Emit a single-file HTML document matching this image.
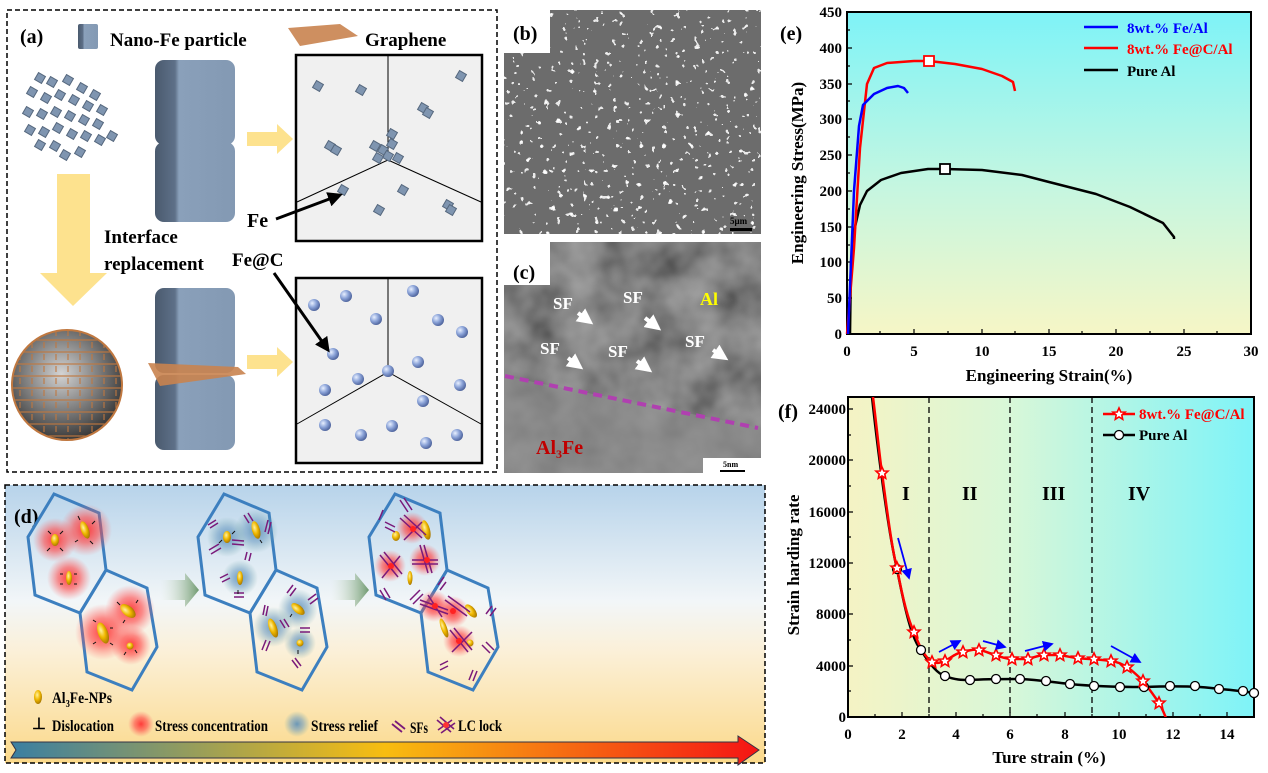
<!DOCTYPE html>
<html><head><meta charset="utf-8"><style>
html,body{margin:0;padding:0;background:#fff}
svg{display:block}
text{font-family:"Liberation Serif",serif;font-weight:bold}
</style></head><body>
<svg width="1268" height="773" viewBox="0 0 1268 773" xmlns="http://www.w3.org/2000/svg">
<defs>
<linearGradient id="gE" x1="0" y1="0" x2="0" y2="1"><stop offset="0" stop-color="#7ef3f7"/><stop offset="0.55" stop-color="#c6f6e0"/><stop offset="1" stop-color="#f6f6c6"/></linearGradient>
<linearGradient id="gF" x1="0" y1="0" x2="1" y2="0"><stop offset="0" stop-color="#f5f3c4"/><stop offset="0.4" stop-color="#d8f7d8"/><stop offset="1" stop-color="#7ef3f8"/></linearGradient>
<linearGradient id="gD" x1="0" y1="0" x2="0" y2="1"><stop offset="0" stop-color="#b7d3ea"/><stop offset="0.42" stop-color="#f2f6f8"/><stop offset="0.6" stop-color="#fbf0d8"/><stop offset="1" stop-color="#fbd98a"/></linearGradient>
<linearGradient id="gBar" x1="0" y1="0" x2="1" y2="0"><stop offset="0" stop-color="#3a7fa2"/><stop offset="0.5" stop-color="#f8bd10"/><stop offset="1" stop-color="#f51414"/></linearGradient>
<linearGradient id="gCube" x1="0" y1="0" x2="1" y2="0"><stop offset="0" stop-color="#4a5a6e"/><stop offset="0.25" stop-color="#5e7088"/><stop offset="0.3" stop-color="#8aa0ba"/><stop offset="1" stop-color="#8399b3"/></linearGradient>
<linearGradient id="gArr" x1="0" y1="0" x2="1" y2="0"><stop offset="0" stop-color="#dfe8d8" stop-opacity="0"/><stop offset="1" stop-color="#6f9a70"/></linearGradient>
<radialGradient id="gSph" cx="0.45" cy="0.4" r="0.6"><stop offset="0" stop-color="#d4d4d4"/><stop offset="1" stop-color="#3a3a3a"/></radialGradient>
<radialGradient id="gBall" cx="0.35" cy="0.35" r="0.7"><stop offset="0" stop-color="#e8f0ff"/><stop offset="0.5" stop-color="#8ba3d8"/><stop offset="1" stop-color="#4a5f98"/></radialGradient>
<radialGradient id="gRed"><stop offset="0" stop-color="#f33" stop-opacity="0.95"/><stop offset="0.5" stop-color="#f44" stop-opacity="0.6"/><stop offset="1" stop-color="#f66" stop-opacity="0"/></radialGradient>
<radialGradient id="gBlue"><stop offset="0" stop-color="#5c8fb8" stop-opacity="0.9"/><stop offset="0.5" stop-color="#6a9ac0" stop-opacity="0.55"/><stop offset="1" stop-color="#7aa" stop-opacity="0"/></radialGradient>
<radialGradient id="gGold" cx="0.4" cy="0.35" r="0.7"><stop offset="0" stop-color="#fff2a0"/><stop offset="0.5" stop-color="#f0b800"/><stop offset="1" stop-color="#a07000"/></radialGradient>
<filter id="spkW" x="0" y="0" width="1" height="1"><feTurbulence type="fractalNoise" baseFrequency="0.16" numOctaves="2" seed="3"/><feColorMatrix type="matrix" values="0 0 0 0 1 0 0 0 0 1 0 0 0 0 1 1 0 0 0 0"/><feComponentTransfer><feFuncA type="discrete" tableValues="0 0 0 0 0 0 0 0.85 1 1"/></feComponentTransfer></filter>
<filter id="spkD" x="0" y="0" width="1" height="1"><feTurbulence type="fractalNoise" baseFrequency="0.14" numOctaves="2" seed="9"/><feColorMatrix type="matrix" values="0 0 0 0 0 0 0 0 0 0 0 0 0 0 0 1 0 0 0 0"/><feComponentTransfer><feFuncA type="discrete" tableValues="0 0 0 0 0 0 0 0 0 0 0.9"/></feComponentTransfer></filter>
<filter id="tex" x="0" y="0" width="1" height="1"><feTurbulence type="fractalNoise" baseFrequency="0.025" numOctaves="3" seed="5"/><feColorMatrix type="matrix" values="0.7 0 0 0 0 0.7 0 0 0 0 0.7 0 0 0 0 0 0 0 0 0.6"/></filter>
<path id="star" d="M0,-6 L1.8,-2 6,-1.9 2.8,1 3.7,5.3 0,3 -3.7,5.3 -2.8,1 -6,-1.9 -1.8,-2Z" fill="#fff" stroke="#f00" stroke-width="1.6"/>
<rect id="sc" x="-4" y="-4" width="8" height="8" fill="#7f95b0" stroke="#56687e" stroke-width="1" transform="rotate(30)"/>
<marker id="ab" markerWidth="6" markerHeight="6" refX="5" refY="3" orient="auto"><path d="M0,0 L6,3 0,6Z" fill="#00f"/></marker>
<marker id="ak" markerWidth="5" markerHeight="5" refX="4" refY="2.5" orient="auto"><path d="M0,0 L5,2.5 0,5Z" fill="#000"/></marker>
<marker id="aw" markerWidth="4" markerHeight="4" refX="3" refY="2" orient="auto"><path d="M0,0 L4,2 0,4Z" fill="#fff"/></marker>
<clipPath id="cf"><rect x="848" y="397" width="406" height="320"/></clipPath>
<clipPath id="cs"><circle cx="67" cy="385" r="54"/></clipPath>
</defs>

<!-- Panel a -->
<rect x="7" y="10" width="490" height="462" fill="#fff" stroke="#000" stroke-width="1.5" stroke-dasharray="5,3"/>
<text x="20" y="43" font-size="20">(a)</text>
<rect x="78" y="24" width="20" height="25" rx="2" fill="url(#gCube)"/>
<text x="110" y="46" font-size="19">Nano-Fe particle</text>
<polygon points="288,28 340,24 358,36 300,46" fill="#c9834f" opacity="0.9"/>
<text x="365" y="46" font-size="19">Graphene</text>
<g>
<use href="#sc" x="40" y="78"/><use href="#sc" x="52" y="82"/><use href="#sc" x="68" y="80"/><use href="#sc" x="82" y="88"/><use href="#sc" x="95" y="95"/>
<use href="#sc" x="32" y="92"/><use href="#sc" x="46" y="98"/><use href="#sc" x="60" y="95"/><use href="#sc" x="74" y="100"/><use href="#sc" x="88" y="106"/><use href="#sc" x="102" y="110"/>
<use href="#sc" x="28" y="112"/><use href="#sc" x="42" y="114"/><use href="#sc" x="56" y="112"/><use href="#sc" x="70" y="116"/><use href="#sc" x="84" y="120"/><use href="#sc" x="98" y="124"/><use href="#sc" x="112" y="136"/>
<use href="#sc" x="30" y="130"/><use href="#sc" x="44" y="132"/><use href="#sc" x="58" y="128"/><use href="#sc" x="72" y="134"/><use href="#sc" x="86" y="136"/><use href="#sc" x="100" y="140"/>
<use href="#sc" x="40" y="145"/><use href="#sc" x="55" y="146"/><use href="#sc" x="65" y="155"/><use href="#sc" x="80" y="152"/>
</g>
<rect x="155" y="60" width="80" height="85" rx="9" fill="url(#gCube)"/>
<rect x="155" y="142" width="80" height="80" rx="9" fill="url(#gCube)"/>
<rect x="155" y="288" width="80" height="85" rx="9" fill="url(#gCube)"/>
<rect x="155" y="375" width="80" height="75" rx="9" fill="url(#gCube)"/>
<polygon points="148,363 238,367 246,374 160,386" fill="#c9834f" opacity="0.9"/>
<rect x="57" y="174" width="33" height="100" fill="#fde28e"/>
<polygon points="40,273 107,273 73,306" fill="#fde28e"/>
<rect x="247" y="132" width="30" height="14" fill="#fde28e"/><polygon points="277,124 293,139 277,154" fill="#fde28e"/>
<rect x="247" y="355" width="30" height="14" fill="#fde28e"/><polygon points="277,347 293,362 277,377" fill="#fde28e"/>
<circle cx="67" cy="385" r="55" fill="url(#gSph)" stroke="#c07840" stroke-width="2"/>
<g clip-path="url(#cs)" stroke="#c07840" stroke-width="1.2" fill="none" opacity="0.9">
<path d="M12,340 H122 M12,352 H122 M12,364 H122 M12,376 H122 M12,388 H122 M12,400 H122 M12,412 H122 M12,424 H122 M12,436 H122"/>
<path d="M20,330 V440 M32,330 V440 M44,330 V440 M56,330 V440 M68,330 V440 M80,330 V440 M92,330 V440 M104,330 V440 M116,330 V440" stroke-dasharray="6,6"/>
</g>
<rect x="296" y="55" width="186" height="186" fill="#f0f0f0" stroke="#000" stroke-width="2.5"/>
<path d="M388,56 V160 L297,202 M388,160 L481,202" stroke="#000" fill="none" stroke-width="1"/>
<g><use href="#sc" x="318" y="86"/><use href="#sc" x="361" y="90"/><use href="#sc" x="461" y="76"/><use href="#sc" x="423" y="108"/><use href="#sc" x="428" y="113"/><use href="#sc" x="330" y="146"/><use href="#sc" x="336" y="150"/><use href="#sc" x="375" y="146"/><use href="#sc" x="383" y="150"/><use href="#sc" x="392" y="144"/><use href="#sc" x="388" y="156"/><use href="#sc" x="398" y="158"/><use href="#sc" x="378" y="158"/><use href="#sc" x="392" y="134"/><use href="#sc" x="343" y="190"/><use href="#sc" x="403" y="190"/><use href="#sc" x="379" y="210"/><use href="#sc" x="448" y="205"/><use href="#sc" x="451" y="210"/></g>
<rect x="296" y="278" width="186" height="185" fill="#f0f0f0" stroke="#000" stroke-width="2.5"/>
<path d="M388,279 V372 L297,424 M388,372 L481,424" stroke="#000" fill="none" stroke-width="1"/>
<g fill="url(#gBall)">
<circle cx="314" cy="305" r="6"/><circle cx="346" cy="296" r="6"/><circle cx="376" cy="319" r="6"/><circle cx="413" cy="291" r="6"/><circle cx="438" cy="320" r="6"/><circle cx="462" cy="332" r="6"/><circle cx="333" cy="354" r="6"/><circle cx="418" cy="362" r="6"/><circle cx="358" cy="379" r="6"/><circle cx="388" cy="371" r="6"/><circle cx="325" cy="390" r="6"/><circle cx="460" cy="385" r="6"/><circle cx="423" cy="401" r="6"/><circle cx="325" cy="425" r="6"/><circle cx="361" cy="435" r="6"/><circle cx="392" cy="426" r="6"/><circle cx="426" cy="443" r="6"/><circle cx="457" cy="435" r="6"/>
</g>
<text x="247" y="227" font-size="20">Fe</text>
<text x="104" y="243" font-size="19">Interface</text>
<text x="104" y="270" font-size="19">replacement</text>
<text x="232" y="266" font-size="19">Fe@C</text>
<line x1="276" y1="219" x2="340" y2="195" stroke="#000" stroke-width="3" marker-end="url(#ak)"/>
<line x1="274" y1="273" x2="328" y2="350" stroke="#000" stroke-width="3" marker-end="url(#ak)"/>

<!-- Panel b -->
<rect x="504" y="10" width="257" height="224" fill="#6c6c6c"/>
<rect x="504" y="10" width="257" height="224" filter="url(#spkD)"/>
<rect x="504" y="10" width="257" height="224" filter="url(#spkW)"/>
<rect x="500" y="0" width="50" height="53" fill="#fff"/>
<text x="513" y="40" font-size="20" fill="#000">(b)</text>
<rect x="730" y="228" width="22" height="3" fill="#000"/>
<text x="730" y="224" font-size="9" fill="#000" font-weight="normal">5μm</text>
<!-- Panel c -->
<rect x="504" y="242" width="257" height="231" fill="#5a5a5a"/>
<rect x="504" y="242" width="257" height="231" filter="url(#tex)"/>
<polygon points="504,376 761,428 761,473 504,473" fill="#8c8c8c" opacity="0.6"/>
<rect x="500" y="242" width="50" height="43" fill="#fff"/>
<line x1="505" y1="376" x2="758" y2="428" stroke="#b040b0" stroke-width="4" stroke-dasharray="9,6"/>
<text x="513" y="279" font-size="20" fill="#000">(c)</text>
<g fill="#fff" font-size="17"><text x="553" y="309">SF</text><text x="623" y="303">SF</text><text x="540" y="354">SF</text><text x="608" y="357">SF</text><text x="685" y="347">SF</text></g>
<g stroke="#fff" stroke-width="4" marker-end="url(#aw)"><line x1="578" y1="313" x2="590" y2="322"/><line x1="645" y1="318" x2="658" y2="328"/><line x1="568" y1="358" x2="580" y2="367"/><line x1="637" y1="361" x2="649" y2="370"/><line x1="713" y1="350" x2="725" y2="358"/></g>
<text x="700" y="305" font-size="18" fill="#ff0">Al</text>
<text x="536" y="454" font-size="20" fill="#c00000">Al<tspan font-size="12" dy="4">3</tspan><tspan dy="-4">Fe</tspan></text>
<rect x="703" y="458" width="58" height="16" fill="#fff"/>
<rect x="720" y="470" width="25" height="2" fill="#000"/>
<text x="723" y="467" font-size="8" fill="#000">5nm</text>

<!-- Panel d -->
<rect x="5" y="485" width="760" height="278" fill="url(#gD)" stroke="#000" stroke-width="1.5" stroke-dasharray="5,3"/>
<text x="14" y="523" font-size="20">(d)</text>
<g id="hexpair" fill="none" stroke="#3c7fbf" stroke-width="3">
<polygon points="54,494 99,513 106,570 80,613 35,595 28,537"/>
<polygon points="106,570 147,588 157,647 132,690 87,672 80,613"/>
</g>
<use href="#hexpair" x="170"/>
<use href="#hexpair" x="341"/>
<g>
<circle cx="55" cy="540" r="22" fill="url(#gRed)"/><circle cx="86" cy="530" r="26" fill="url(#gRed)"/><circle cx="69" cy="578" r="22" fill="url(#gRed)"/>
<circle cx="130" cy="610" r="25" fill="url(#gRed)"/><circle cx="103" cy="632" r="28" fill="url(#gRed)"/><circle cx="131" cy="645" r="20" fill="url(#gRed)"/>
<ellipse cx="55" cy="540" rx="4" ry="6" fill="url(#gGold)"/><ellipse cx="85" cy="530" rx="4" ry="9" fill="url(#gGold)" transform="rotate(-20 85 530)"/><ellipse cx="69" cy="578" rx="3" ry="7" fill="url(#gGold)"/>
<ellipse cx="128" cy="611" rx="5" ry="9" fill="url(#gGold)" transform="rotate(-50 128 611)"/><ellipse cx="103" cy="633" rx="5" ry="11" fill="url(#gGold)" transform="rotate(-20 103 633)"/><circle cx="130" cy="646" r="3.5" fill="url(#gGold)"/>
<circle cx="227" cy="537" r="20" fill="url(#gBlue)"/><circle cx="256" cy="531" r="22" fill="url(#gBlue)"/><circle cx="240" cy="578" r="18" fill="url(#gBlue)"/><circle cx="298" cy="609" r="20" fill="url(#gBlue)"/><circle cx="273" cy="627" r="20" fill="url(#gBlue)"/><circle cx="300" cy="643" r="16" fill="url(#gBlue)"/>
<ellipse cx="227" cy="537" rx="4" ry="6" fill="url(#gGold)"/><ellipse cx="256" cy="530" rx="4" ry="9" fill="url(#gGold)" transform="rotate(-15 256 530)"/><ellipse cx="240" cy="578" rx="3" ry="7" fill="url(#gGold)"/><ellipse cx="298" cy="609" rx="4" ry="8" fill="url(#gGold)" transform="rotate(-50 298 609)"/><ellipse cx="273" cy="628" rx="4" ry="10" fill="url(#gGold)" transform="rotate(-20 273 628)"/><circle cx="300" cy="643" r="3.5" fill="url(#gGold)"/>
<g stroke="#7a1a7a" stroke-width="1.5">
<path d="M208,525 l8,-5 M210,528 l8,-5 M209,550 l10,-6 M211,554 l10,-6 M244,515 l5,8 M248,513 l5,8 M268,520 l-3,12 M271,522 l-3,12 M232,540 l12,1 M232,544 l12,1 M245,560 l2,-8 M249,561 l2,-8 M220,578 l8,-4 M222,582 l8,-4 M234,593 l10,0 M234,597 l10,0 M287,593 l6,-8 M290,596 l6,-8 M265,605 l-2,10 M268,606 l-2,10 M280,620 l5,8 M284,619 l5,8 M300,628 l10,0 M300,632 l10,0 M262,650 l4,-10 M266,651 l4,-10 M292,660 l6,8 M295,658 l6,8 M308,600 l8,-6 M310,604 l8,-6"/>
</g>
<circle cx="412" cy="528" r="16" fill="url(#gRed)"/><circle cx="390" cy="566" r="16" fill="url(#gRed)"/><circle cx="425" cy="560" r="16" fill="url(#gRed)"/><circle cx="434" cy="606" r="16" fill="url(#gRed)"/><circle cx="453" cy="612" r="16" fill="url(#gRed)"/><circle cx="459" cy="641" r="16" fill="url(#gRed)"/>
<ellipse cx="396" cy="536" rx="4" ry="5" fill="url(#gGold)"/><ellipse cx="426" cy="530" rx="4" ry="10" fill="url(#gGold)" transform="rotate(-15 426 530)"/><ellipse cx="410" cy="578" rx="2.5" ry="7" fill="url(#gGold)"/><ellipse cx="471" cy="611" rx="4" ry="8" fill="url(#gGold)" transform="rotate(-40 471 611)"/><ellipse cx="444" cy="628" rx="3" ry="10" fill="url(#gGold)" transform="rotate(-20 444 628)"/><circle cx="470" cy="643" r="3.5" fill="url(#gGold)"/>
<g stroke="#7a1a7a" stroke-width="1.5">
<path d="M400,518 l22,20 M404,515 l22,20 M404,540 l18,-18 M380,555 l18,22 M384,552 l18,22 M382,578 l18,-22 M412,560 l26,0 M412,564 l26,0 M420,545 l8,28 M424,545 l8,28 M420,600 l28,10 M420,604 l28,10 M428,595 l14,22 M445,600 l22,16 M448,596 l22,16 M450,630 l18,22 M454,628 l18,22 M452,652 l20,-20 M400,500 l8,12 M404,498 l8,12 M385,522 l10,5 M385,527 l10,5 M383,510 l-4,10 M380,590 l6,10 M384,588 l6,10 M410,600 l10,-10 M413,604 l10,-10 M492,606 l-6,8 M496,608 l-6,8 M438,585 l6,-8 M440,590 l6,-8 M440,665 l8,-4 M440,670 l8,-4 M482,645 l8,8 M486,642 l8,8 M473,670 l-4,10 M477,671 l-4,10"/>
</g>
<g fill="#f22"><circle cx="413" cy="529" r="3"/><circle cx="391" cy="566" r="3"/><circle cx="427" cy="560" r="3"/><circle cx="435" cy="606" r="3"/><circle cx="453" cy="611" r="3"/><circle cx="459" cy="641" r="3"/></g>
<g fill="#111" stroke="#111" stroke-width="1">
<path d="M51,534 l-3,-3 M60,534 l3,-3 M50,548 l-3,3 M60,548 l3,3 M80,520 l-2,-4 M92,524 l3,-3 M78,540 l-3,2 M90,541 l3,3 M63,574 l-3,0 M74,574 l3,0 M63,584 l-3,0 M74,584 l3,0 M120,605 l-3,-3 M136,603 l2,-3 M125,620 l-2,3 M96,622 l-3,-2 M96,642 l-3,2 M110,628 l3,0 M110,643 l3,2 M126,652 l-2,3 M135,650 l2,3 M222,540 l-3,3 M232,534 l3,-3 M260,540 l2,3 M238,590 l0,4 M298,650 l0,4 M292,614 l-2,3"/>
</g>
<polygon points="160,580 185,580 185,573 199,590 185,607 185,600 160,600" fill="url(#gArr)"/>
<polygon points="330,580 355,580 355,573 369,590 355,607 355,600 330,600" fill="url(#gArr)"/>
</g>
<ellipse cx="38" cy="697" rx="4" ry="7" fill="url(#gGold)"/>
<text x="52" y="703" font-size="16" textLength="60" lengthAdjust="spacingAndGlyphs">Al<tspan font-size="10" dy="4">3</tspan><tspan dy="-4">Fe-NPs</tspan></text>
<text x="32" y="729" font-size="16">⊥</text>
<text x="52" y="731" font-size="16" textLength="62" lengthAdjust="spacingAndGlyphs">Dislocation</text>
<circle cx="141" cy="724" r="13" fill="url(#gRed)"/>
<text x="155" y="731" font-size="16" textLength="113" lengthAdjust="spacingAndGlyphs">Stress concentration</text>
<circle cx="297" cy="724" r="13" fill="url(#gBlue)"/>
<text x="311" y="731" font-size="16" textLength="67" lengthAdjust="spacingAndGlyphs">Stress relief</text>
<path d="M392,724 l10,8 M395,721 l10,8" stroke="#7a1a7a" stroke-width="1.8"/>
<text x="410" y="733" font-size="16" textLength="18" lengthAdjust="spacingAndGlyphs">SFs</text>
<path d="M437,720 l14,12 M440,717 l14,12 M438,730 l14,-10 M441,733 l14,-10" stroke="#7a1a7a" stroke-width="1.6"/><circle cx="446" cy="725" r="3" fill="#f33"/>
<text x="458" y="731" font-size="16" textLength="44" lengthAdjust="spacingAndGlyphs">LC lock</text>
<polygon points="11,742 738,742 738,736 759,750 738,765 738,758 11,758 16,750" fill="url(#gBar)" stroke="#334" stroke-width="1"/>

<!-- Panel e -->
<rect x="847" y="12" width="404" height="322" fill="url(#gE)" stroke="#000" stroke-width="2"/>
<g stroke="#000" stroke-width="1.2">
<path d="M847,334 v-5 M914,334 v-5 M982,334 v-5 M1049,334 v-5 M1116,334 v-5 M1184,334 v-5 M1251,334 v-5 M880,334 v-3 M948,334 v-3 M1015,334 v-3 M1082,334 v-3 M1150,334 v-3 M1217,334 v-3"/>
<path d="M847,334 h5 M847,298 h5 M847,262 h5 M847,227 h5 M847,191 h5 M847,155 h5 M847,119 h5 M847,84 h5 M847,48 h5 M847,12 h5 M847,316 h3 M847,280 h3 M847,245 h3 M847,209 h3 M847,173 h3 M847,137 h3 M847,101 h3 M847,66 h3 M847,30 h3"/>
</g>
<g font-size="15" text-anchor="end">
<text x="842" y="339">0</text><text x="842" y="303">50</text><text x="842" y="267">100</text><text x="842" y="232">150</text><text x="842" y="196">200</text><text x="842" y="160">250</text><text x="842" y="124">300</text><text x="842" y="89">350</text><text x="842" y="53">400</text><text x="842" y="17">450</text>
</g>
<g font-size="15" text-anchor="middle">
<text x="847" y="356">0</text><text x="914" y="356">5</text><text x="982" y="356">10</text><text x="1049" y="356">15</text><text x="1116" y="356">20</text><text x="1184" y="356">25</text><text x="1251" y="356">30</text>
</g>
<text x="1049" y="381" font-size="17" text-anchor="middle">Engineering Strain(%)</text>
<text transform="translate(803,173) rotate(-90)" font-size="17" text-anchor="middle">Engineering Stress(MPa)</text>
<text x="780" y="40" font-size="20">(e)</text>
<g fill="none" stroke-width="2.5" stroke-linejoin="round">
<path stroke="#000" d="M850,334 L851,262 855,227 860,205 867,191 881,180 901,173 928,169 945,169 982,170 1022,175 1049,182 1096,194 1130,207 1163,223 1174,237 1174,239"/>
<path stroke="#f00" d="M847,334 L854,248 860,148 867,84 874,68 887,63 914,61 929,61 955,64 982,69 1002,76 1013,82 1015,91"/>
<path stroke="#00f" d="M848,334 L854,191 859,126 863,105 874,94 887,88 898,86 904,88 908,93"/>
</g>
<rect x="924" y="56" width="10" height="10" fill="#fff" stroke="#f00" stroke-width="1.8"/>
<rect x="940" y="164" width="10" height="10" fill="#fff" stroke="#000" stroke-width="1.8"/>
<g stroke-width="2.5"><line x1="1084" y1="27" x2="1118" y2="27" stroke="#00f"/><line x1="1084" y1="48" x2="1118" y2="48" stroke="#f00"/><line x1="1084" y1="70" x2="1118" y2="70" stroke="#000"/></g>
<text x="1127" y="33" font-size="15" fill="#00f">8wt.% Fe/Al</text>
<text x="1127" y="54" font-size="15" fill="#f00">8wt.% Fe@C/Al</text>
<text x="1127" y="76" font-size="15" fill="#000">Pure Al</text>

<!-- Panel f -->
<rect x="848" y="397" width="406" height="320" fill="url(#gF)" stroke="#000" stroke-width="2"/>
<g stroke="#000" stroke-width="1.2">
<path d="M848,717 v-5 M902,717 v-5 M956,717 v-5 M1010,717 v-5 M1065,717 v-5 M1119,717 v-5 M1173,717 v-5 M1227,717 v-5 M875,717 v-3 M929,717 v-3 M983,717 v-3 M1037,717 v-3 M1092,717 v-3 M1146,717 v-3 M1200,717 v-3"/>
<path d="M848,717 h5 M848,666 h5 M848,614 h5 M848,563 h5 M848,512 h5 M848,460 h5 M848,409 h5 M848,691 h3 M848,640 h3 M848,589 h3 M848,537 h3 M848,486 h3 M848,435 h3"/>
</g>
<g stroke="#000" stroke-width="1.3" stroke-dasharray="6,4"><line x1="929" y1="397" x2="929" y2="717"/><line x1="1010" y1="397" x2="1010" y2="717"/><line x1="1092" y1="397" x2="1092" y2="717"/></g>
<g font-size="15" text-anchor="end">
<text x="846" y="722">0</text><text x="846" y="671">4000</text><text x="846" y="619">8000</text><text x="846" y="568">12000</text><text x="846" y="517">16000</text><text x="846" y="465">20000</text><text x="846" y="414">24000</text>
</g>
<g font-size="15" text-anchor="middle">
<text x="848" y="739">0</text><text x="902" y="739">2</text><text x="956" y="739">4</text><text x="1010" y="739">6</text><text x="1065" y="739">8</text><text x="1119" y="739">10</text><text x="1173" y="739">12</text><text x="1227" y="739">14</text>
</g>
<text x="1049" y="763" font-size="17" text-anchor="middle">Ture strain (%)</text>
<text transform="translate(799,565) rotate(-90)" font-size="17" text-anchor="middle">Strain harding rate</text>
<text x="778" y="418" font-size="20">(f)</text>
<g font-size="20"><text x="902" y="500">I</text><text x="962" y="500">II</text><text x="1042" y="500">III</text><text x="1128" y="500">IV</text></g>
<g clip-path="url(#cf)" fill="none" stroke-width="2.5" stroke-linejoin="round">
<path stroke="#000" d="M872,397 C880,470 890,540 897,569 C905,610 912,640 921,650 C930,665 938,674 945,676 C955,680 962,680 970,680 C985,679 1005,679 1020,679 C1040,680 1050,682 1070,684 C1090,686 1110,687 1144,687 C1170,686 1200,686 1219,689 C1235,690 1245,692 1256,693"/>
<path stroke="#f00" d="M873,397 C877,430 880,460 882,473 C887,510 892,550 897,568 C902,595 908,620 914,632 C920,648 925,657 932,662 C938,664 942,662 945,661 C952,657 956,653 963,652 C970,650 975,649 979,650 C986,651 990,654 996,655 C1003,658 1007,659 1012,659 C1020,659 1022,659 1028,659 C1035,657 1040,655 1044,655 L1060,655 C1067,656 1072,658 1078,658 C1085,659 1090,659 1094,659 C1100,660 1105,660 1111,661 C1118,662 1122,664 1127,667 C1133,671 1138,676 1143,681 C1150,690 1155,697 1159,703 C1162,708 1164,713 1166,718"/>
</g>
<g fill="#fff" stroke="#000" stroke-width="1.3">
<circle cx="897" cy="569" r="4.5"/><circle cx="921" cy="650" r="4.5"/><circle cx="945" cy="676" r="4.5"/><circle cx="970" cy="680" r="4.5"/><circle cx="996" cy="679" r="4.5"/><circle cx="1020" cy="679" r="4.5"/><circle cx="1046" cy="681" r="4.5"/><circle cx="1070" cy="684" r="4.5"/><circle cx="1094" cy="686" r="4.5"/><circle cx="1120" cy="687" r="4.5"/><circle cx="1144" cy="687" r="4.5"/><circle cx="1170" cy="686" r="4.5"/><circle cx="1195" cy="686" r="4.5"/><circle cx="1219" cy="689" r="4.5"/><circle cx="1243" cy="691" r="4.5"/><circle cx="1254" cy="693" r="4.5"/>
</g>
<g>
<use href="#star" x="882" y="473"/><use href="#star" x="897" y="568"/><use href="#star" x="914" y="632"/><use href="#star" x="932" y="662"/><use href="#star" x="945" y="661"/><use href="#star" x="963" y="652"/><use href="#star" x="979" y="650"/><use href="#star" x="996" y="655"/><use href="#star" x="1012" y="659"/><use href="#star" x="1028" y="659"/><use href="#star" x="1044" y="655"/><use href="#star" x="1060" y="655"/><use href="#star" x="1078" y="658"/><use href="#star" x="1094" y="659"/><use href="#star" x="1111" y="661"/><use href="#star" x="1127" y="667"/><use href="#star" x="1143" y="681"/><use href="#star" x="1159" y="703"/>
</g>
<g stroke="#00f" stroke-width="1.8" marker-end="url(#ab)">
<line x1="898" y1="538" x2="909" y2="578"/><line x1="939" y1="652" x2="960" y2="641"/><line x1="983" y1="641" x2="1005" y2="647"/><line x1="1025" y1="651" x2="1052" y2="644"/><line x1="1111" y1="646" x2="1140" y2="662"/>
</g>
<line x1="1103" y1="414" x2="1135" y2="414" stroke="#f00" stroke-width="2.5"/><use href="#star" x="1119" y="414"/>
<line x1="1103" y1="435" x2="1135" y2="435" stroke="#000" stroke-width="2.5"/><circle cx="1119" cy="435" r="4.5" fill="#fff" stroke="#000" stroke-width="1.3"/>
<text x="1139" y="419" font-size="15" fill="#f00">8wt.% Fe@C/Al</text>
<text x="1139" y="440" font-size="15" fill="#000">Pure Al</text>
</svg>
</body></html>
